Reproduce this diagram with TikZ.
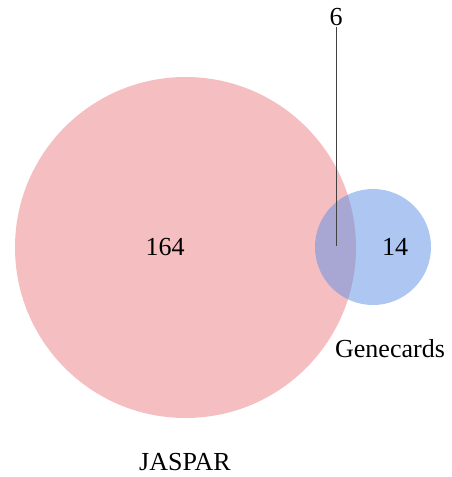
\documentclass[tikz,border=0pt]{standalone}
\usepackage{fontspec}
\setmainfont{Liberation Serif}
\definecolor{jaspar}{RGB}{236,126,131}
\definecolor{gene}{RGB}{91,143,230}
\begin{document}
\begin{tikzpicture}[x=1pt,y=-1pt,
  setcircle/.style={circle,inner sep=0pt,fill opacity=0.5,draw=none},
  lbl/.style={font=\fontsize{26}{30}\selectfont,inner sep=1pt}]
\useasboundingbox (0,0) rectangle (451,477);
\node[setcircle,fill=jaspar,minimum size=341pt] (A) at (185.5,247.5) {};
\node[setcircle,fill=gene,minimum size=116pt] (B) at (373,247) {};
\node[lbl] (nA) at (165,247) {164};
\node[lbl] (nB) at (395,247) {14};
\node[lbl] (nAB) at (336,17) {6};
\coordinate (pAB) at (336,246);
\draw[line width=0.8pt,black!75] (nAB.south) -- (pAB);
\node[lbl] (lB) at (390,349) {Genecards};
\node[lbl] (lA) at (185,462) {JASPAR};
\end{tikzpicture}
\end{document}
